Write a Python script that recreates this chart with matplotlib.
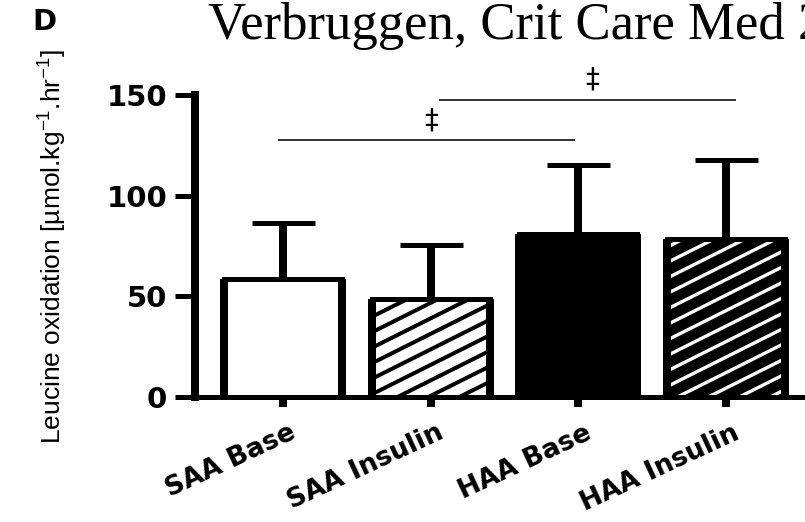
import numpy as np
import matplotlib
matplotlib.use("Agg")
import matplotlib.pyplot as plt
from matplotlib.lines import Line2D
from matplotlib.transforms import IdentityTransform, ScaledTranslation

# ---- data -------------------------------------------------------------
categories = ["SAA Base", "SAA Insulin", "HAA Base", "HAA Insulin"]
means = [58.5, 48.5, 81.0, 78.5]
sd_upper = [28.0, 27.0, 34.0, 39.0]
y_ticks = [0, 50, 100, 150]
comparisons = [(0, 2), (1, 3)]
comparison_levels = [127.5, 147.5]
comparison_marks = ["\u2021", "\u2021"]

# ---- styling ----------------------------------------------------------
DPI = 100
W, H = 805, 522
PX = 72.0 / DPI            # points per pixel
face_colors = ["white", "white", "black", "white"]
stripe_widths_px = [0, 4.0, 0, 10.5]   # 0 -> no diagonal stripes
stripe_angle_deg = 26.6
stripe_step_px = 15.5
bracket_shift = [-0.03, 0.06]

plt.rcParams["mathtext.fontset"] = "custom"
plt.rcParams["mathtext.rm"] = "Liberation Sans"
plt.rcParams["mathtext.it"] = "Liberation Sans:italic"
plt.rcParams["mathtext.bf"] = "Liberation Sans:bold"

fig = plt.figure(figsize=(W / DPI, H / DPI), dpi=DPI)
ax = fig.add_axes([195 / W, (H - 397.3) / H, 619 / W, 302.6 / H])
ax.set_xlim(-0.596, 3.596)
ax.set_ylim(0, 150)

x = np.arange(len(categories))
bar_w = 0.8

# error bars (upper only) sit behind the bars
ax.errorbar(x, means, yerr=[np.zeros(len(means)), sd_upper], fmt="none",
            ecolor="black", elinewidth=8 * PX, capsize=31.5 * PX,
            capthick=5 * PX, zorder=1.5)

bars = ax.bar(x, means, bar_w, color=face_colors, edgecolor="black",
              linewidth=5 * PX, zorder=2)

# heavier vertical sides of each bar
for xi, m in zip(x, means):
    ax.vlines([xi - bar_w / 2, xi + bar_w / 2], 0, m, colors="black",
              linewidth=8 * PX, zorder=3)

# diagonal stripe fill, clipped to the bar rectangle
slope = np.tan(np.radians(stripe_angle_deg))
for i, (xi, m) in enumerate(zip(x, means)):
    lw = stripe_widths_px[i]
    if lw <= 0:
        continue
    x0, y0 = ax.transData.transform((xi - bar_w / 2, 0))
    x1, y1 = ax.transData.transform((xi + bar_w / 2, m))
    span = (x1 - x0) * slope
    for c in np.arange(-span - stripe_step_px, (y1 - y0) + stripe_step_px, stripe_step_px):
        xs = [x0 - 10, x1 + 10]
        ys = [y0 + c + (xx - x0) * slope for xx in xs]
        ln = Line2D(xs, ys, transform=IdentityTransform(), color="black",
                    linewidth=lw * PX, solid_capstyle="butt", zorder=2.2)
        ax.add_artist(ln)
        ln.set_clip_path(bars[i])

# significance brackets
for (a, b), lvl, mark, sh in zip(comparisons, comparison_levels,
                                 comparison_marks, bracket_shift):
    xa, xb = x[a] + sh, x[b] + sh
    ax.plot([xa, xb], [lvl, lvl], color="#333333", linewidth=2 * PX,
            clip_on=False, zorder=4)
    ax.text((xa + xb) / 2 + 0.035, lvl + 3.0, mark, ha="center",
            va="bottom", fontsize=20, family="DejaVu Sans",
            clip_on=False)

# axes
for s in ("top", "right"):
    ax.spines[s].set_visible(False)
ax.spines["left"].set_linewidth(8 * PX)
ax.spines["bottom"].set_linewidth(5 * PX)

ax.set_yticks(y_ticks)
ax.set_yticklabels([str(v) for v in y_ticks], fontsize=21,
                   fontweight="bold", family="DejaVu Sans")
ax.tick_params(axis="y", length=20 * PX, width=5 * PX, pad=8 * PX,
               direction="out")

ax.set_xticks(x)
ax.set_xticklabels(categories, rotation=25, ha="right", va="top",
                   rotation_mode="anchor", fontsize=19, fontweight="bold",
                   family="DejaVu Sans")
ax.tick_params(axis="x", length=9.5 * PX, width=8 * PX, pad=13 * PX,
               direction="out")
shift = ScaledTranslation(6 / DPI, 0, fig.dpi_scale_trans)
for lbl in ax.get_xticklabels():
    lbl.set_transform(lbl.get_transform() + shift)

ax.set_ylabel(r"Leucine oxidation [µmol.kg$^{\mathrm{-1}}$.hr$^{\mathrm{-1}}$]",
              fontsize=19, family=["Liberation Sans Narrow", "Liberation Sans"])
ax.yaxis.label.set_va("center")
ax.yaxis.set_label_coords((53 - 195) / 619, 0.5)

fig.text(44 / W, 1 - 22 / H, "D", fontsize=21, fontweight="bold",
         family="DejaVu Sans", ha="center", va="center")
fig.text(208 / W, 1 - 39 / H, "Verbruggen, Crit Care Med 2011",
         fontsize=38, family="Liberation Serif", ha="left", va="baseline")

fig.savefig("out.png", dpi=DPI)
